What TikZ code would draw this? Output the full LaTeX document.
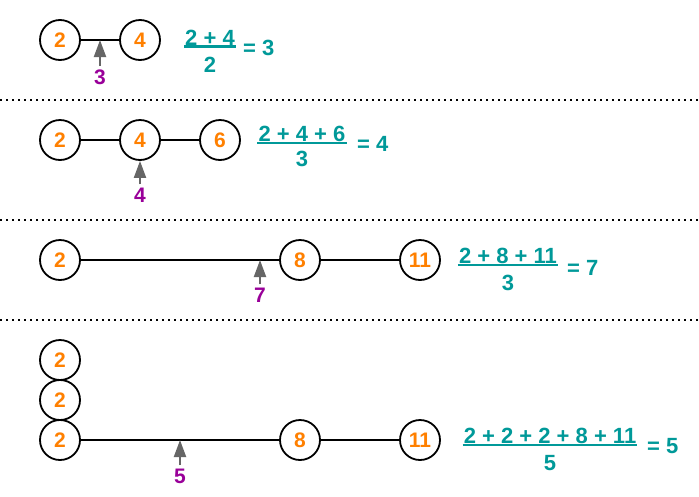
\documentclass[tikz,border=0pt]{standalone}
\usepackage{fontspec}
\setmainfont{Liberation Sans}
\usetikzlibrary{arrows.meta}
\definecolor{orng}{HTML}{FF8000}
\definecolor{tealc}{HTML}{009999}
\definecolor{purp}{HTML}{990099}
\definecolor{grayc}{HTML}{666666}
\begin{document}
\begin{tikzpicture}[x=1pt,y=-1pt,
  nd/.style={circle,draw=black,line width=1.8pt,minimum size=40pt,inner sep=0pt,text=orng,font=\fontsize{21}{21}\selectfont\bfseries},
  link/.style={line width=1.6pt},
  ptr/.style={draw=grayc,line width=2pt,-{Triangle[width=12pt,length=17pt,fill=grayc]}},
  lbl/.style={text=purp,font=\fontsize{21}{21}\selectfont\bfseries,anchor=base,inner sep=0pt},
  fr/.style={text=tealc,font=\fontsize{22}{22}\selectfont\bfseries,anchor=base,inner ysep=0pt,inner xsep=1pt},
  eq/.style={text=tealc,font=\fontsize{22}{22}\selectfont\bfseries,anchor=base west,inner sep=0pt},
  fline/.style={draw=tealc,line width=2.2pt},
  sep/.style={line width=1.6pt,dash pattern=on 1.6pt off 4.4pt}]
\useasboundingbox (0,0) rectangle (699,496);
\fill[white] (0,0) rectangle (699,496);
% separators
\coordinate (s1a) at (0,100); \coordinate (s1b) at (699,100);
\coordinate (s2a) at (0,220); \coordinate (s2b) at (699,220);
\coordinate (s3a) at (0,320); \coordinate (s3b) at (699,320);
\draw[sep] (s1a) -- (s1b);
\draw[sep] (s2a) -- (s2b);
\draw[sep] (s3a) -- (s3b);
% row 1
\node[nd] (a1) at (60,40) {2};
\node[nd] (b1) at (140,40) {4};
\draw[link] (a1) -- (b1);
\coordinate (t1) at (100,40);
\node[lbl] (l1) at (100,84) {3};
\draw[ptr] ([yshift=3pt]l1.north) -- (t1);
\node[fr] (n1) at (210,45) {2 + 4};
\draw[fline] ([yshift=-1.2pt]n1.south west) -- ([yshift=-1.2pt]n1.south east);
\node[fr] (d1) at (210,72) {2};
\node[eq] (e1) at (243,55) {= 3};
% row 2
\node[nd] (a2) at (60,140) {2};
\node[nd] (b2) at (140,140) {4};
\node[nd] (c2) at (220,140) {6};
\draw[link] (a2) -- (b2);
\draw[link] (b2) -- (c2);
\node[lbl] (l2) at (140,202) {4};
\draw[ptr] ([yshift=3pt]l2.north) -- (b2.south);
\node[fr] (n2) at (302,141) {2 + 4 + 6};
\draw[fline] ([yshift=-1.2pt]n2.south west) -- ([yshift=-1.2pt]n2.south east);
\node[fr] (d2) at (302,166) {3};
\node[eq] (e2) at (357,151) {= 4};
% row 3
\node[nd] (a3) at (60,260) {2};
\node[nd] (b3) at (300,260) {8};
\node[nd] (c3) at (420,260) {11};
\draw[link] (a3) -- (b3);
\draw[link] (b3) -- (c3);
\coordinate (t3) at (260,260);
\node[lbl] (l3) at (260,302) {7};
\draw[ptr] ([yshift=3pt]l3.north) -- (t3);
\node[fr] (n3) at (508,263) {2 + 8 + 11};
\draw[fline] ([yshift=-1.2pt]n3.south west) -- ([yshift=-1.2pt]n3.south east);
\node[fr] (d3) at (508,290) {3};
\node[eq] (e3) at (567,275) {= 7};
% row 4
\node[nd] (a4) at (60,360) {2};
\node[nd] (b4) at (60,400) {2};
\node[nd] (c4) at (60,440) {2};
\node[nd] (d4) at (300,440) {8};
\node[nd] (e4) at (420,440) {11};
\draw[link] (c4) -- (d4);
\draw[link] (d4) -- (e4);
\coordinate (t4) at (180,440);
\node[lbl] (l4) at (180,483) {5};
\draw[ptr] ([yshift=3pt]l4.north) -- (t4);
\node[fr] (n4) at (550,443) {2 + 2 + 2 + 8 + 11};
\draw[fline] ([yshift=-1.2pt]n4.south west) -- ([yshift=-1.2pt]n4.south east);
\node[fr] (dd4) at (550,470) {5};
\node[eq] (ee4) at (647,453) {= 5};
\end{tikzpicture}
\end{document}
